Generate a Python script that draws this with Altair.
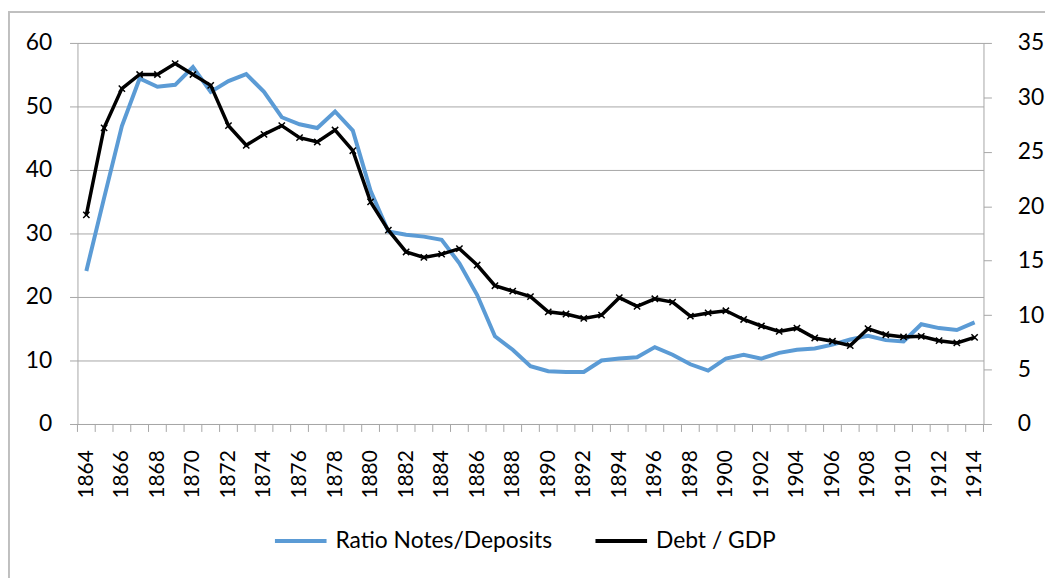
import altair as alt
import pandas as pd

years = list(range(1864, 1915))

ratio_notes_deposits = [
    24.1, 35.6, 46.9, 54.4, 53.1, 53.4, 56.2, 52.3, 54.0, 55.1,
    52.3, 48.3, 47.2, 46.6, 49.2, 46.2, 36.7, 30.3, 29.8, 29.5,
    29.0, 25.3, 20.3, 13.8, 11.7, 9.1, 8.3, 8.2, 8.2, 10.0,
    10.3, 10.5, 12.1, 10.9, 9.4, 8.4, 10.3, 10.9, 10.3, 11.2,
    11.7, 11.9, 12.5, 13.3, 13.9, 13.2, 13.0, 15.7, 15.1, 14.8,
    16.0,
]

debt_gdp = [
    19.2, 27.2, 30.8, 32.1, 32.1, 33.1, 32.1, 31.1, 27.4, 25.6,
    26.6, 27.4, 26.3, 25.9, 27.0, 25.1, 20.4, 17.8, 15.8, 15.3,
    15.6, 16.1, 14.6, 12.7, 12.2, 11.7, 10.3, 10.1, 9.7, 10.0,
    11.6, 10.8, 11.5, 11.2, 9.9, 10.2, 10.4, 9.6, 9.0, 8.5,
    8.8, 7.9, 7.6, 7.2, 8.75, 8.2, 8.0, 8.05, 7.65, 7.45,
    7.95,
]

series_names = ["Ratio Notes/Deposits", "Debt / GDP"]
series_colors = ["#5B9BD5", "#000000"]

x_labels = years[::2]
left_ticks = [0, 10, 20, 30, 40, 50, 60]
right_ticks = [0, 5, 10, 15, 20, 25, 30, 35]

FONT = "Lato"
GRAY = "#A6A6A6"

df = pd.DataFrame(
    {
        "year": years + years,
        "series": [series_names[0]] * len(years) + [series_names[1]] * len(years),
        "value": ratio_notes_deposits + debt_gdp,
    }
)
boundaries = pd.DataFrame({"b": [y - 0.5 for y in years] + [years[-1] + 0.5]})

xscale = alt.Scale(domain=[years[0] - 0.5, years[-1] + 0.5], nice=False, zero=False)
color = alt.Color(
    "series:N",
    scale=alt.Scale(domain=series_names, range=series_colors),
    legend=alt.Legend(
        title=None,
        orient="none",
        legendX=197,
        legendY=474,
        direction="horizontal",
        symbolType="stroke",
        symbolSize=2704,
        symbolStrokeWidth=4,
        labelFont=FONT,
        labelFontSize=23,
        labelColor="#000000",
        labelOffset=7,
        labelLimit=400,
        columnPadding=35,
        padding=0,
    ),
)

xaxis = alt.Axis(
    values=x_labels,
    labelAngle=270,
    labelFont=FONT,
    labelFontSize=21,
    labelColor="#000000",
    labelPadding=26,
    ticks=False,
    grid=False,
    domainColor=GRAY,
    title=None,
    format="d",
    labelOverlap=False,
    labelFlush=False,
)

base = alt.Chart(df)

blue = base.transform_filter(alt.datum.series == series_names[0]).mark_line(
    strokeWidth=4
).encode(
    x=alt.X("year:Q", scale=xscale, axis=xaxis),
    y=alt.Y(
        "value:Q",
        scale=alt.Scale(domain=[0, 60], nice=False),
        axis=alt.Axis(
            values=left_ticks,
            orient="left",
            labelFont=FONT,
            labelFontSize=23,
            labelColor="#000000",
            labelPadding=18,
            tickSize=8,
            tickColor=GRAY,
            domainColor=GRAY,
            gridColor=GRAY,
            grid=True,
            title=None,
        ),
    ),
    color=color,
)

black_line = base.transform_filter(alt.datum.series == series_names[1]).mark_line(
    strokeWidth=3.5
).encode(
    x=alt.X("year:Q", scale=xscale, axis=xaxis),
    y=alt.Y(
        "value:Q",
        scale=alt.Scale(domain=[0, 35], nice=False),
        axis=alt.Axis(
            values=right_ticks,
            orient="right",
            labelFont=FONT,
            labelFontSize=23,
            labelColor="#000000",
            labelPadding=26,
            tickSize=8,
            tickColor=GRAY,
            domainColor=GRAY,
            grid=False,
            title=None,
        ),
    ),
    color=color,
)

black_pts = base.transform_filter(alt.datum.series == series_names[1]).mark_point(
    shape="M-1,-1L1,1M-1,1L1,-1",
    size=40,
    filled=False,
    stroke="#000000",
    strokeWidth=1.5,
    opacity=1,
).encode(
    x=alt.X("year:Q", scale=xscale, axis=xaxis),
    y=alt.Y("value:Q", scale=alt.Scale(domain=[0, 35], nice=False), axis=None),
)

xticks = alt.Chart(boundaries).mark_rule(color=GRAY, strokeWidth=1).encode(
    x=alt.X("b:Q", scale=xscale, axis=xaxis),
    y=alt.value(384),
    y2=alt.value(392),
)

border = alt.Chart(boundaries).mark_rect(
    fillOpacity=0, stroke="#BFBFBF", strokeWidth=1.5
).encode(
    x=alt.value(-69.5),
    x2=alt.value(1100),
    y=alt.value(-31),
    y2=alt.value(700),
)

chart = (
    alt.layer(blue, black_line, black_pts, xticks, border)
    .resolve_scale(y="independent")
    .properties(
        width=913,
        height=384,
        autosize=alt.AutoSizeParams(type="none"),
        padding={"left": 70, "top": 33, "right": 62, "bottom": 153},
    )
    .configure_view(stroke=None)
)

chart.save("out.html", embed_options={"renderer": "svg", "actions": False})
